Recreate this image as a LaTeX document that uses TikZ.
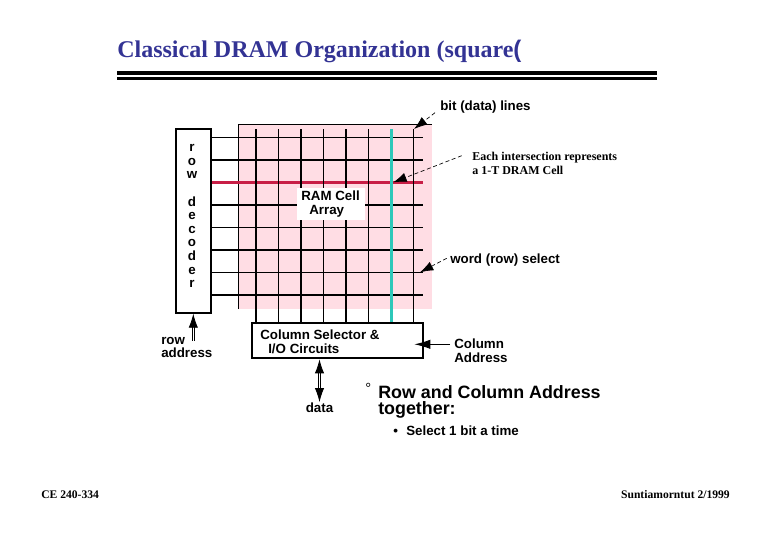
\documentclass[tikz,border=0pt]{standalone}
\usepackage{fontspec}
\setmainfont{Liberation Serif}
\setsansfont{Liberation Sans}
\usetikzlibrary{arrows.meta}
\definecolor{titleblue}{RGB}{51,51,148}
\definecolor{cellpink}{RGB}{255,221,228}
\definecolor{wordred}{RGB}{200,30,70}
\definecolor{bitcyan}{RGB}{45,200,185}
\tikzset{
  thinline/.style={line width=0.75pt},
  thickline/.style={line width=1.5pt},
  boxline/.style={draw,line width=1.5pt,fill=white,inner sep=0pt},
  pointer/.style={densely dashed,line width=0.5pt,-{Latex[length=10pt,width=7pt,sep=0pt]}},
  busline/.style={double,double distance=1.2pt,line width=0.6pt,-{Latex[length=10.5pt,width=7pt]}},
  labeltext/.style={font=\sffamily\bfseries\fontsize{10}{12}\selectfont,anchor=base west,inner sep=0pt},
  serifnote/.style={font=\rmfamily\bfseries\fontsize{9}{10}\selectfont,anchor=base west,inner sep=0pt},
  footnote/.style={font=\rmfamily\bfseries\fontsize{8.7}{10}\selectfont,inner sep=0pt},
}
\begin{document}
\begin{tikzpicture}[x=0.75pt,y=0.75pt,yscale=-1,xscale=1]
\useasboundingbox (0,0) rectangle (780,540);

%Double Rule
\fill (117,70.5) rectangle (657,74.5);
\fill (117,76.5) rectangle (657,79.5);
%Cell Array Background
\fill [cellpink] (238.3,124.3) rectangle (432,309);
\draw [thinline] (238.3,309) -- (238.3,124.3) -- (432,124.3);

%Decoder and Selector Boxes
\node [boxline,minimum width=26.5pt,minimum height=137.5pt] (rowdecoder) at (193.7,221) {};
\node [boxline,minimum width=127.8pt,minimum height=26.7pt] (colselector) at (337.5,340.5) {};

%Straight Lines
\draw [thinline] (rowdecoder.east |- 0,137.3) -- (422.7,137.3);
\draw [thickline] (rowdecoder.east |- 0,159.7) -- (422.7,159.7);
\draw [line width=2pt,color=wordred] (rowdecoder.east |- 0,182.3) -- (422.7,182.3);
\draw [thickline] (rowdecoder.east |- 0,205) -- (422.7,205);
\draw [thinline] (rowdecoder.east |- 0,227.3) -- (422.7,227.3);
\draw [thickline] (rowdecoder.east |- 0,250) -- (422.7,250);
\draw [thinline] (rowdecoder.east |- 0,272.3) -- (422.7,272.3);
\draw [thickline] (rowdecoder.east |- 0,295) -- (422.7,295);
%Straight Lines
\draw [thickline] (256,129) -- (256,129 |- colselector.north);
\draw [thinline] (278.3,129) -- (278.3,129 |- colselector.north);
\draw [thickline] (300.7,129) -- (300.7,129 |- colselector.north);
\draw [thinline] (323.3,129) -- (323.3,129 |- colselector.north);
\draw [thickline] (345.7,129) -- (345.7,129 |- colselector.north);
\draw [thinline] (368.3,129) -- (368.3,129 |- colselector.north);
\draw [line width=2pt,color=bitcyan] (391.3,129) -- (391.3,129 |- colselector.north);
\draw [thinline] (413.7,129) -- (413.7,129 |- colselector.north);

%Array Label
\fill [white] (297,188.3) rectangle (365,220);

% Text Node
\node [anchor=base west,inner sep=0pt,font=\rmfamily\bfseries\fontsize{18}{20}\selectfont,text=titleblue] (title) at (117,57) {Classical DRAM Organization (square{\sffamily(}};
% Text Node
\node [labeltext] (bitlabel) at (440,110) {bit (data) lines};
\node [serifnote] (celllabel) at (472,160) {Each intersection represents};
\node [serifnote] (celllabeltwo) at (472,174) {a 1-T DRAM Cell};
\node [labeltext] (wordlabel) at (450,263) {word (row) select};
\node [labeltext] (arraylabel) at (301,200) {RAM Cell};
\node [labeltext] (arraylabeltwo) at (309,214) {Array};
\node [labeltext] (selectorlabel) at (260,339.5) {Column Selector \&};
\node [labeltext] (selectorlabeltwo) at (268,353) {I/O Circuits};
\node [labeltext] (coladdress) at (454,348) {Column};
\node [labeltext] (coladdresstwo) at (454,362) {Address};
\node [labeltext] (rowaddress) at (161,344) {row};
\node [labeltext] (rowaddresstwo) at (161,357) {address};
\node [labeltext,anchor=base] (datalabel) at (319.5,412) {data};
\node [labeltext,font=\sffamily\fontsize{11}{12}\selectfont] (ringmark) at (365,393) {°};
\node [labeltext,font=\sffamily\bfseries\fontsize{13.4}{15}\selectfont] (rowcolumn) at (378,398) {Row and Column Address};
\node [labeltext,font=\sffamily\bfseries\fontsize{13.4}{15}\selectfont] (together) at (378,414) {together:};
\node [labeltext] (bulletmark) at (393,435) {•};
\node [labeltext] (selectone) at (406,435) {Select 1 bit a time};
\node [footnote,anchor=base west] (course) at (41,498) {CE 240-334};
\node [footnote,anchor=base east] (lecturer) at (730,498) {Suntiamorntut 2/1999};
% Row Decoder Letters
\node [labeltext,anchor=center,align=center,font=\sffamily\bfseries\fontsize{10}{10.2}\selectfont] (decoderlabel) at (192,216) {r\\o\\w\\[10.2pt]d\\e\\c\\o\\d\\e\\r};

%Pointers
\coordinate (bittip) at (414,129);
\coordinate (bittail) at (435,112.7);
\coordinate (celltip) at (393.3,182.3);
\coordinate (celltail) at (461.7,155.7);
\coordinate (wordtip) at (420,272.3);
\coordinate (wordtail) at (446.7,258.3);
\coordinate (coltip) at (414.3,344.3);
\coordinate (coltail) at (450,344.3);
\coordinate (rowtail) at (193.3,340.7);
\draw [pointer] (bittail) -- (bittip);
\draw [pointer] (celltail) -- (celltip);
\draw [pointer] (wordtail) -- (wordtip);
\draw [thinline,-{Latex[length=12pt,width=7pt]}] (coltail) -- (coltip);
\draw [busline] (rowtail) -- (rowtail |- rowdecoder.south);
\draw [busline,{Latex[length=10.5pt,width=7pt]}-{Latex[length=10.5pt,width=7pt]}] (colselector.south -| datalabel) -- (datalabel.north);
\end{tikzpicture}
\end{document}
